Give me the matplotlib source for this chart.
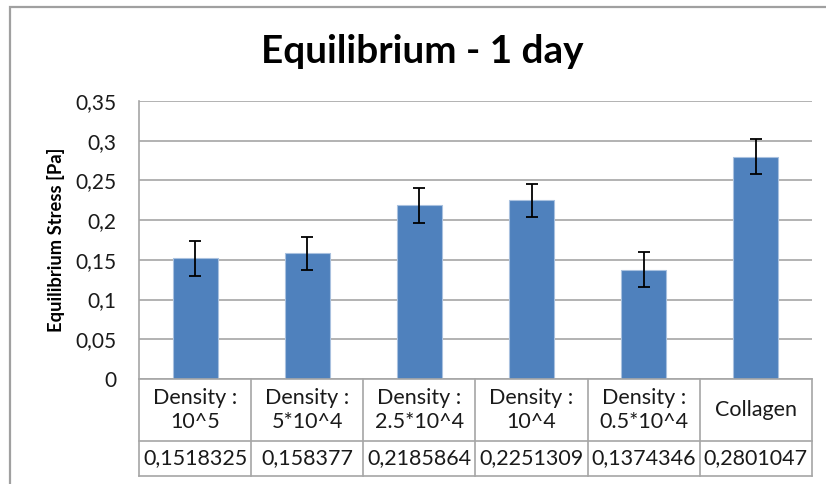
import matplotlib
matplotlib.use("Agg")
import matplotlib.pyplot as plt
from matplotlib.patches import Rectangle
from matplotlib.ticker import MultipleLocator, FuncFormatter

categories = ["Density :\n10^5", "Density :\n5*10^4", "Density :\n2.5*10^4",
              "Density :\n10^4", "Density :\n0.5*10^4", "Collagen"]
stress = [0.1518325, 0.158377, 0.2185864, 0.2251309, 0.1374346, 0.2801047]
errors = [0.022, 0.021, 0.022, 0.021, 0.022, 0.022]

W, H = 826, 484
FONT = "Lato"
TXT = "#1a1a1a"
GRID = "#a6a6a6"

plt.rcParams["font.family"] = [FONT, "DejaVu Sans"]


def comma(v):
    return f"{v:g}".replace(".", ",")


fig = plt.figure(figsize=(W / 100, H / 100), dpi=100)
fig.patch.set_facecolor("white")

# chart border (runs off the right and bottom edges)
fig.patches.append(Rectangle((10 / W, -0.1), 1.2, 1 - 7 / H + 0.1,
                             transform=fig.transFigure, fill=False,
                             edgecolor="#a0a0a0", lw=1.6))

x0, x1 = 139 / W, 812 / W
ax = fig.add_axes([x0, 1 - 379 / H, x1 - x0, (379 - 101) / H])
pos = range(len(stress))
ax.bar(pos, stress, width=0.4, color="#4f81bd", edgecolor="#a9c1df", lw=0.8,
       zorder=3)
ax.errorbar(pos, stress, yerr=errors, fmt="none", ecolor="black",
            elinewidth=1.3, capsize=4.3, capthick=1.3, zorder=4)

ax.set_xlim(-0.5, len(stress) - 0.5)
ax.set_ylim(0, 0.35)
ax.yaxis.set_major_locator(MultipleLocator(0.05))
ax.yaxis.set_major_formatter(FuncFormatter(lambda v, p: comma(v)))
ax.tick_params(axis="y", length=0, pad=16, labelsize=15, labelcolor=TXT)
ax.set_xticks([])
ax.grid(axis="y", color=GRID, lw=1.2, zorder=0)
for s in ["top", "right", "bottom"]:
    ax.spines[s].set_visible(False)
ax.spines["left"].set_color(GRID)
ax.spines["left"].set_linewidth(1.2)

# data table under the plot
tab = fig.add_axes([x0, 1 - 476 / H, x1 - x0, (476 - 379) / H])
tab.set_xlim(-0.5, len(stress) - 0.5)
tab.set_ylim(97, 0)
tab.axis("off")
for k in range(len(stress) + 1):
    tab.plot([k - 0.5, k - 0.5], [0, 97], color=GRID, lw=1.2, clip_on=False)
for yy in [0, 62, 97]:
    tab.plot([-0.5, len(stress) - 0.5], [yy, yy], color=GRID, lw=1.2,
             clip_on=False)
for k, (c, v) in enumerate(zip(categories, stress)):
    tab.text(k, 31, c, ha="center", va="center", fontsize=15.5, color=TXT,
             linespacing=1.2)
    tab.text(k, 79.5, str(v).replace(".", ","), ha="center", va="center",
             fontsize=15.5, color=TXT)

fig.text(56 / W, 1 - 240 / H, "Equilibrium Stress [Pa]", rotation=90,
         ha="center", va="center", fontsize=13.2, fontweight="bold",
         color="black")
fig.text(422 / W, 1 - 63 / H, "Equilibrium - 1 day", ha="center",
         va="baseline", fontsize=27.8, fontweight="bold", color="black")

fig.savefig("out.png", dpi=100)
plt.close(fig)
